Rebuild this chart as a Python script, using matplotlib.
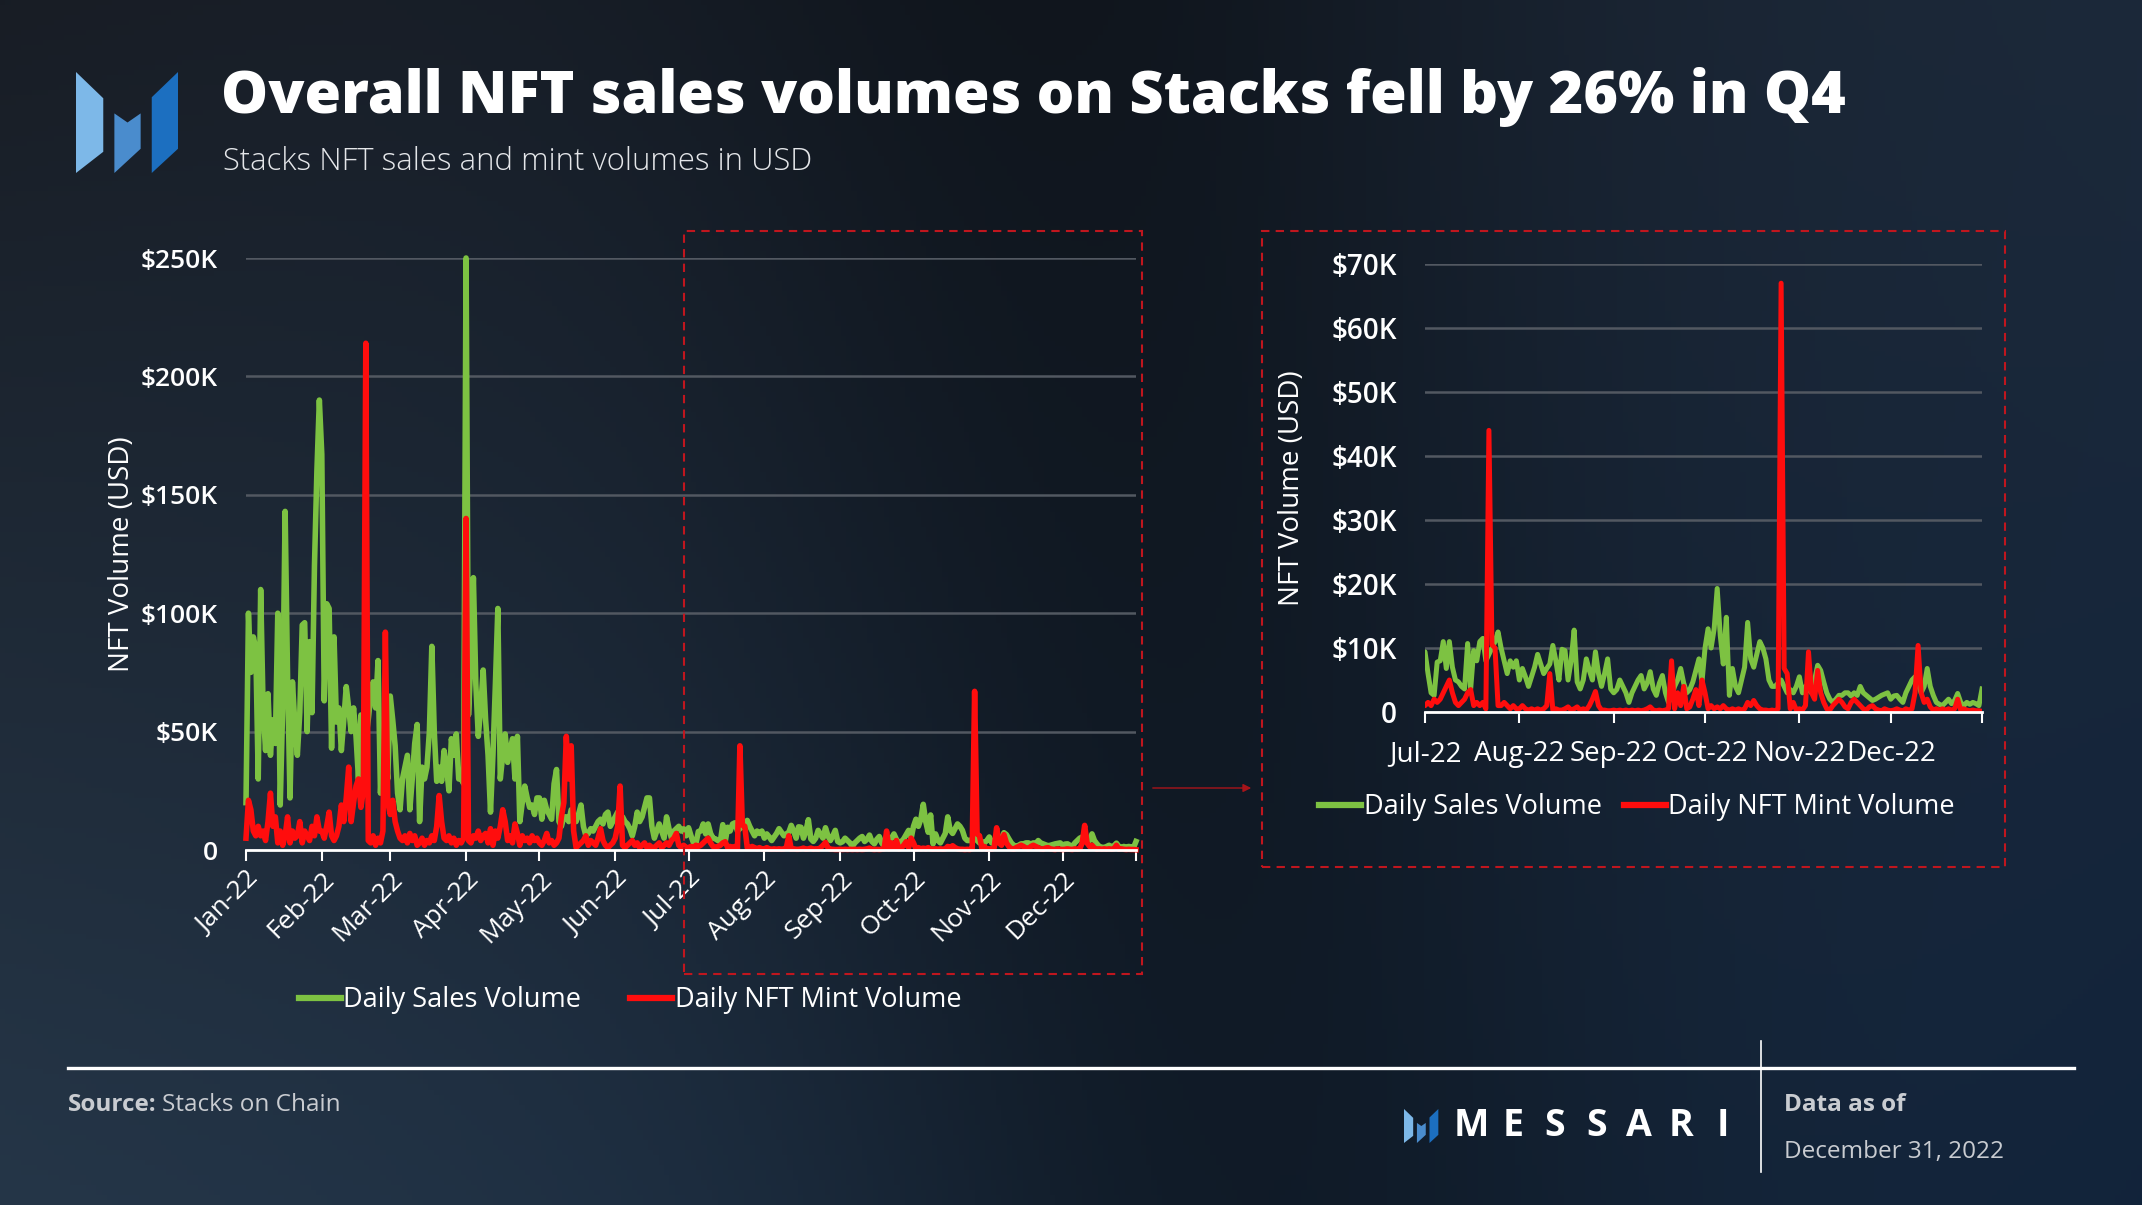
"""Stacks NFT sales vs mint volumes in 2022, Messari style slide."""

import matplotlib

matplotlib.use("Agg")

import matplotlib.dates as mdates
import matplotlib.pyplot as plt
import numpy as np
import pandas as pd
from matplotlib.lines import Line2D
from matplotlib.patches import FancyArrowPatch, Polygon, Rectangle
from matplotlib.ticker import FuncFormatter

# Daily volumes, USD thousands
SALES_JAN = [20, 100, 75, 90, 85, 30, 110, 60, 42, 66, 40, 55, 45, 100, 19, 60,
             143, 73, 22, 71, 53, 40, 58, 95, 96, 50, 88, 58, 120, 160, 190]
SALES_FEB = [167, 63, 104, 102, 43, 90, 54, 60, 42, 55, 69, 60, 50, 60, 48, 30,
             57, 50, 47, 55, 65, 71, 60, 80, 24, 45, 40, 30]
SALES_MAR = [65, 55, 44, 24, 17, 30, 35, 40, 17, 30, 45, 53, 12, 35, 30, 35,
             50, 86, 50, 29, 35, 29, 42, 35, 25, 47, 40, 49, 30, 30, 28]
SALES_APR = [250, 57, 80, 115, 70, 48, 60, 76, 55, 40, 16, 40, 70, 102, 30, 40,
             49, 37, 42, 47, 30, 48, 12, 20, 27, 22, 18, 19, 15, 22]
SALES_MAY = [22, 13, 21, 17, 15, 13, 28, 34, 12, 10, 14, 14, 12, 17, 15, 12,
             15, 19, 10, 6, 7, 9, 8, 10, 12, 13, 11, 15, 16, 10, 12]
SALES_JUN = [14, 16, 12, 14, 12, 11, 9, 6, 10, 16, 12, 14, 18, 22, 22, 10,
             5, 8, 11, 8, 5, 14, 9, 5, 8, 9, 10, 8, 9, 6]
SALES_JUL = [9.4, 6, 3, 2.6, 7.8, 8, 11, 6.8, 11, 7, 5, 4.7, 4, 3.6, 10.7, 3.6,
             9.6, 8, 11, 11.5, 8, 9, 10, 11, 12.5, 10, 8, 6, 8, 7, 8]
SALES_AUG = [5, 6.8, 5.5, 4, 5.5, 7, 9, 7.5, 6, 6.8, 7.5, 10.4, 8, 5, 9.8, 9.6,
             5, 8, 12.8, 4.7, 3.6, 5, 8.3, 6.5, 5, 9.4, 6, 4, 6, 8.3, 3.6]
SALES_SEP = [3, 3.5, 5, 4, 3, 1.5, 3, 4, 5, 5.7, 3.6, 4.5, 6.3, 3.6, 2.6, 4.5,
             5.7, 3, 1.5, 2.5, 4, 5, 6.8, 4.5, 3, 3.5, 4.7, 6.5, 8.3, 4.7]
SALES_OCT = [10, 13, 10, 13, 19.3, 12, 7.5, 14.8, 2.6, 6.8, 4, 3, 5, 7, 14, 8.3,
             7, 9, 11, 10, 8.3, 5, 4, 4, 4.5, 5, 4, 3, 3.5, 3, 4]
SALES_NOV = [5.5, 3, 4, 3.5, 3, 5, 7.3, 6.5, 4.7, 3, 2, 1.5, 2, 2.6, 2.6, 3,
             3, 2.5, 3, 2.6, 4, 3, 2.6, 2.2, 1.8, 2, 2.3, 2.6, 2.8, 3]
SALES_DEC = [2, 2.5, 2.6, 2, 1.5, 3, 4, 5, 5.5, 4.5, 3, 4, 6.8, 4, 2.6, 1.5,
             1.2, 1, 1.5, 2, 1.3, 1.8, 2.9, 1.5, 1, 1.5, 1.2, 1.5, 1.3, 1, 3.6]

MINT_JAN = [5, 21, 17, 8, 6, 10, 6, 8, 4, 12, 24, 10, 14, 3, 8, 2,
            6, 14, 3, 8, 5, 6, 12, 3, 8, 6, 4, 10, 6, 14, 8]
MINT_FEB = [8, 5, 10, 16, 6, 4, 6, 10, 19, 12, 22, 35, 12, 20, 27, 30,
            18, 25, 214, 4, 3, 6, 2, 5, 3, 8, 92, 20]
MINT_MAR = [15, 21, 12, 8, 5, 4, 6, 3, 7, 4, 6, 2, 3, 5, 2, 4,
            3, 6, 4, 10, 23, 12, 5, 4, 6, 3, 5, 2, 4, 3, 5]
MINT_APR = [140, 4, 3, 6, 5, 8, 4, 6, 7, 3, 9, 2, 8, 5, 10, 17,
            12, 4, 6, 3, 11, 7, 2, 6, 4, 5, 3, 6, 4, 5]
MINT_MAY = [3, 2, 4, 7, 3, 4, 2, 3, 5, 14, 20, 48, 30, 44, 8, 1,
            2, 3, 4, 6, 2, 4, 3, 2, 5, 9, 4, 2, 1, 2, 3]
MINT_JUN = [5, 10, 27, 2, 1, 2, 3, 4, 2, 3, 1, 2, 3, 1, 2, 1,
            1, 2, 3, 1, 2, 3, 2, 4, 5, 7, 2, 1, 2, 1]
MINT_JUL = [1, 1.5, 1, 2, 1.5, 2, 3, 4, 5, 3, 1.5, 1, 1.5, 2, 3, 3.5,
            1, 1.5, 1, 1.5, 0.5, 44, 10.5, 10, 1, 1, 1.5, 1, 0.5, 1, 0.5]
MINT_AUG = [0.5, 1, 0.5, 0.3, 0.5, 0.3, 0.5, 0.3, 0.5, 1, 6, 0.3, 0.5, 0.3, 0.3, 0.5,
            0.8, 0.3, 0.5, 0.8, 0.3, 0.5, 0.3, 1, 2, 3.2, 1, 0.3, 0.3, 0.2, 0.2]
MINT_SEP = [0.3, 0.2, 0.3, 0.2, 0.3, 0.2, 0.3, 0.2, 0.3, 0.2, 0.3, 0.5, 0.8, 0.3, 0.2, 0.3,
            0.2, 0.3, 0.5, 8, 0.5, 3, 1, 4, 0.5, 0.8, 2, 3.5, 1, 5]
MINT_OCT = [3, 0.5, 1, 0.5, 0.8, 0.5, 1, 0.5, 0.3, 0.5, 0.3, 0.5, 0.3, 0.5, 1.5, 1,
            1.8, 1, 0.5, 0.3, 0.3, 0.2, 0.3, 0.2, 0.5, 67, 6.8, 6, 0.5, 1.5, 0.3]
MINT_NOV = [0.5, 0.3, 1, 9.4, 3, 2, 6.5, 3, 1.5, 0.5, 0.3, 1, 1.5, 2, 1.5, 0.8,
            0.5, 1.5, 2, 1.5, 1, 0.5, 0.3, 0.8, 1, 0.5, 0.3, 0.2, 0.5, 0.3]
MINT_DEC = [0.2, 0.3, 0.5, 0.3, 0.2, 0.5, 0.3, 0.5, 3, 10.4, 3, 1.5, 2, 0.8, 0.3, 0.5,
            0.3, 0.5, 0.3, 0.5, 0.3, 0.5, 2, 0.3, 0.5, 0.3, 0.2, 0.3, 0.2, 0.2, 0.1]

MONTH_LABELS = ["Jan-22", "Feb-22", "Mar-22", "Apr-22", "May-22", "Jun-22",
                "Jul-22", "Aug-22", "Sep-22", "Oct-22", "Nov-22", "Dec-22"]
SERIES_LABELS = ["Daily Sales Volume", "Daily NFT Mint Volume"]

TITLE = "Overall NFT sales volumes on Stacks fell by 26% in Q4"
SUBTITLE = "Stacks NFT sales and mint volumes in USD"

W, H = 2142, 1205
GREEN = "#7dc242"
RED = "#ff0d0d"
GRID = "#525861"
DASH_RED = "#c0161e"
TEXT_GREY = "#c9ccd1"

plt.rcParams["font.family"] = ["Open Sans", "DejaVu Sans"]


def fx(x):
    return x / W


def fy(y):
    return 1 - y / H


def draw_logo(fig, x0, y0, size):
    """Messari mark, drawn from a 100x100 unit template at pixel (x0, y0)."""
    shapes = [
        ([(0, 0), (27, 26), (27, 79), (0, 100)], "#7db8e8"),
        ([(38, 41), (51, 50), (64, 41), (64, 76), (38, 100)], "#4a8ccd"),
        ([(75, 25), (101, 0), (101, 76), (75, 100)], "#1c6fc0"),
    ]
    k = size / 100.0
    for pts, color in shapes:
        xy = [(fx(x0 + px * k), fy(y0 + py * k)) for px, py in pts]
        fig.add_artist(Polygon(xy, closed=True, transform=fig.transFigure,
                               facecolor=color, edgecolor="none"))


def fit_width(text, target_px, renderer):
    width = text.get_window_extent(renderer).width
    text.set_fontsize(text.get_fontsize() * target_px / width)


def style_axis(ax, ymax, ystep, ysize, tick_pad, label_pad):
    ax.set_facecolor("none")
    for side in ("top", "right", "left"):
        ax.spines[side].set_visible(False)
    ax.spines["bottom"].set_color("white")
    ax.spines["bottom"].set_linewidth(2)
    ax.set_ylim(0, ymax)
    ax.set_yticks(np.arange(0, ymax + 1, ystep))
    ax.yaxis.set_major_formatter(
        FuncFormatter(lambda v, _: "0" if v == 0 else f"${v:.0f}K"))
    ax.yaxis.grid(True, color=GRID, linewidth=1.8)
    ax.set_axisbelow(True)
    ax.tick_params(axis="y", length=0, colors="white", labelsize=ysize, pad=label_pad)
    ax.tick_params(axis="x", length=8, width=1.5, colors="white", direction="out",
                   pad=tick_pad)
    for lab in ax.get_yticklabels():
        lab.set_fontweight("semibold")
    ax.set_ylabel("NFT Volume (USD)", color="white", fontsize=20)


sales = (SALES_JAN + SALES_FEB + SALES_MAR + SALES_APR + SALES_MAY + SALES_JUN
         + SALES_JUL + SALES_AUG + SALES_SEP + SALES_OCT + SALES_NOV + SALES_DEC)
mint = (MINT_JAN + MINT_FEB + MINT_MAR + MINT_APR + MINT_MAY + MINT_JUN
        + MINT_JUL + MINT_AUG + MINT_SEP + MINT_OCT + MINT_NOV + MINT_DEC)
days = pd.date_range("2022-01-01", "2022-12-31", freq="D")
x = mdates.date2num(days.to_pydatetime())
month_x = mdates.date2num(
    pd.date_range("2022-01-01", periods=12, freq="MS").to_pydatetime())
h2_start = month_x[6]

fig = plt.figure(figsize=(W / 100, H / 100), dpi=100)

# background gradient
gx, gy = np.meshgrid(np.linspace(0, 1, 400), np.linspace(0, 1, 240))
tl = np.array([0x18, 0x1d, 0x25]) / 255
tr = np.array([0x1c, 0x29, 0x3a]) / 255
bl = np.array([0x25, 0x36, 0x48]) / 255
br = np.array([0x12, 0x24, 0x3b]) / 255
gx3, gy3 = gx[..., None], gy[..., None]
img = ((1 - gx3) * (1 - gy3) * tl + gx3 * (1 - gy3) * tr
       + (1 - gx3) * gy3 * bl + gx3 * gy3 * br)
dark = 1 - 0.38 * np.exp(-((gx - 0.5 - 0.08 * gy) / 0.2) ** 2)
img = np.clip(img * dark[..., None], 0, 1)
bg = fig.add_axes([0, 0, 1, 1], zorder=-10)
bg.imshow(img, aspect="auto", extent=(0, 1, 0, 1), origin="upper")
bg.axis("off")

# main chart, full year
ax = fig.add_axes([fx(246), fy(850), fx(1136) - fx(246), fy(258) - fy(850)])
style_axis(ax, 250, 50, 19, tick_pad=4, label_pad=20)
ax.plot(x, sales, color=GREEN, lw=4.0, clip_on=False, solid_joinstyle="round")
ax.plot(x, mint, color=RED, lw=4.0, clip_on=False, solid_joinstyle="round")
ax.set_xlim(x[0], x[-1])
ax.set_xticks(list(month_x) + [x[-1]])
ax.set_xticklabels(MONTH_LABELS + [""], rotation=45, ha="right",
                   rotation_mode="anchor", fontsize=19)
ax.yaxis.set_label_coords((136 - 246) / (1136 - 246), 0.5)

# zoomed chart, H2
ax2 = fig.add_axes([fx(1425), fy(712), fx(1982) - fx(1425), fy(264) - fy(712)])
style_axis(ax2, 70, 10, 20, tick_pad=12, label_pad=20)
ax2.plot(x, sales, color=GREEN, lw=3.6, solid_joinstyle="round")
ax2.plot(x, mint, color=RED, lw=3.6, solid_joinstyle="round")
ax2.set_xlim(h2_start, x[-1])
ax2.set_xticks(list(month_x[6:]) + [x[-1]])
ax2.set_xticklabels(MONTH_LABELS[6:] + [""], fontsize=20)
ax2.yaxis.set_label_coords((1306 - 1425) / (1982 - 1425), 0.5)

handles = [Line2D([], [], color=GREEN, lw=4.5), Line2D([], [], color=RED, lw=4.5)]
legend_kw = dict(loc="center", bbox_transform=fig.transFigure, ncol=2, frameon=False,
                 fontsize=19.5, handlelength=1.55, handletextpad=0.1,
                 labelcolor="white")
ax.legend(handles, SERIES_LABELS, bbox_to_anchor=(fx(630), fy(1000)),
          columnspacing=1.8, **legend_kw)
ax2.legend(handles, SERIES_LABELS, bbox_to_anchor=(fx(1637), fy(807)),
           columnspacing=0.8, **legend_kw)

# zoom frames and arrow
dash = (0, (4, 3))
fig.add_artist(Rectangle((fx(684), fy(974)), fx(1142) - fx(684), fy(231) - fy(974),
                         transform=fig.transFigure, fill=False, ec=DASH_RED,
                         lw=1.5, ls=dash))
fig.add_artist(Rectangle((fx(1262), fy(867)), fx(2005) - fx(1262), fy(231) - fy(867),
                         transform=fig.transFigure, fill=False, ec=DASH_RED,
                         lw=1.5, ls=dash))
fig.add_artist(FancyArrowPatch((fx(1150), fy(788)), (fx(1254), fy(788)),
                               transform=fig.transFigure, arrowstyle="-|>",
                               mutation_scale=12, color="#a8141a", lw=1))

# header
draw_logo(fig, 76, 72, 101)
renderer = fig.canvas.get_renderer()
title = fig.text(fx(221), fy(97), TITLE, color="white", fontsize=44,
                 fontweight="heavy", va="center", ha="left")
fit_width(title, 1626, renderer)
subtitle = fig.text(fx(223), fy(162), SUBTITLE, color="#e4e6e9", fontsize=20,
                    fontweight="light", va="center", ha="left")
fit_width(subtitle, 590, renderer)

# footer
fig.add_artist(Line2D([fx(68), fx(2074)], [fy(1068), fy(1068)],
                      transform=fig.transFigure, color="white", lw=2.4))
fig.add_artist(Line2D([fx(1761), fx(1761)], [fy(1041), fy(1172)],
                      transform=fig.transFigure, color="white", lw=1.2))
src = fig.text(fx(68), fy(1105), "Source:", color=TEXT_GREY, fontsize=17.5,
               fontweight="bold", va="center")
src_w = src.get_window_extent(renderer).width
fig.text(fx(68 + src_w + 5), fy(1105), "Stacks on Chain", color=TEXT_GREY,
         fontsize=17.5, va="center")
fig.text(fx(1784), fy(1105), "Data as of", color=TEXT_GREY, fontsize=17.5,
         fontweight="bold", va="center")
fig.text(fx(1784), fy(1152), "December 31, 2022", color=TEXT_GREY, fontsize=17.5,
         va="center")

draw_logo(fig, 1404, 1109, 34)
for i, letter in enumerate("MESSARI"):
    fig.text(fx(1471 + 42 * i), fy(1126), letter, color="white", fontsize=27,
             fontweight="bold", ha="center", va="center")

fig.savefig("out.png", dpi=100, facecolor="#141a22")
